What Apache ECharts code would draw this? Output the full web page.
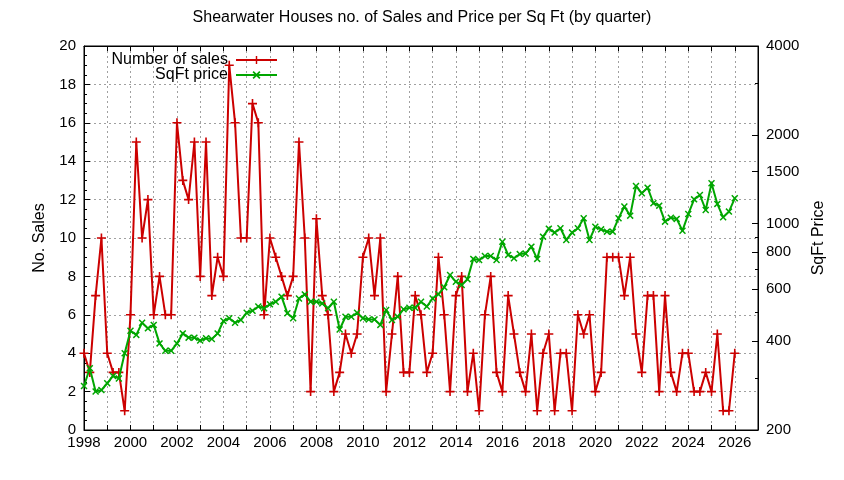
<!DOCTYPE html>
<html>
<head>
<meta charset="utf-8">
<script src="https://cdn.jsdelivr.net/npm/echarts@6/dist/echarts.min.js"></script>
<style>html,body{margin:0;padding:0;background:#fff;}#c{width:844px;height:480px;}</style>
</head>
<body>
<div id="c"></div>
<script>
const startYear = 1998;
const salesCount = [
  4,3,7,10,4,3,3,1,6,15,
  10,12,6,8,6,6,16,13,12,15,
  8,15,7,9,8,19,16,10,10,17,
  16,6,10,9,8,7,8,15,10,2,
  11,7,6,2,3,5,4,5,9,10,
  7,10,2,5,8,3,3,7,6,3,
  4,9,6,2,7,8,2,4,1,6,
  8,3,2,7,5,3,2,5,1,4,
  5,1,4,4,1,6,5,6,2,3,
  9,9,9,7,9,5,3,7,7,2,
  7,3,2,4,4,2,2,3,2,5,
  1,1,4
];
const sqftPrice = [
  282,324,270,273,288,305,299,364,434,420,
  462,442,454,393,371,371,393,425,411,411,
  402,409,407,425,468,478,462,472,499,507,
  524,517,533,544,566,497,478,558,576,544,
  544,537,517,544,438,484,484,499,478,474,
  474,454,510,472,484,513,519,519,544,524,
  558,577,609,670,636,620,648,760,753,777,
  777,753,869,784,764,789,792,836,760,904,
  962,933,965,881,933,965,1043,881,977,957,
  940,940,1043,1143,1065,1342,1268,1325,1173,1151,
  1016,1048,1038,947,1078,1209,1251,1113,1371,1167,
  1051,1099,1219
];
const xLabelYears = [1998,2000,2002,2004,2006,2008,2010,2012,2014,2016,2018,2020,2022,2024,2026];
const priceTickLabels = [200,400,600,800,1000,1500,2000,4000];
const priceMinorTicks = [300,500,700,900,3000];

const quarterOf = i => startYear + i / 4;
const salesData = salesCount.map((v, i) => [quarterOf(i), v]);
const priceData = sqftPrice.map((v, i) => [quarterOf(i), v]);

const FONT = 'Liberation Sans, Arial, sans-serif';
const RED = '#cc0000';
const GREEN = '#00a600';
const plusPath = 'path://M4.1,0H5.9V4.1H10V5.9H5.9V10H4.1V5.9H0V4.1H4.1Z';
const crossPath = 'path://M0,1.5L1.5,0L5,3.5L8.5,0L10,1.5L6.5,5L10,8.5L8.5,10L5,6.5L1.5,10L0,8.5L3.5,5Z';

const chart = echarts.init(document.getElementById('c'), null, {renderer: 'canvas'});
chart.setOption({
  animation: false,
  backgroundColor: '#fff',
  textStyle: {fontFamily: FONT, color: '#000'},
  title: {
    text: 'Shearwater Houses no. of Sales and Price per Sq Ft (by quarter)',
    left: 'center', top: 5,
    textStyle: {fontFamily: FONT, fontSize: 16, fontWeight: 'normal', color: '#000'}
  },
  grid: {left: 84, right: 86, top: 46, bottom: 50, show: true, borderColor: '#000', borderWidth: 1, backgroundColor: 'transparent'},
  legend: [
    {data: ['Number of sales'], right: 566, top: 52, padding: 0, align: 'right', itemWidth: 41, itemHeight: 10, itemGap: 4,
     textStyle: {fontFamily: FONT, fontSize: 16, color: '#000', padding: [0, 3, 0, 0]}},
    {data: ['SqFt price'], right: 566, top: 67, padding: 0, align: 'right', itemWidth: 41, itemHeight: 10, itemGap: 4,
     textStyle: {fontFamily: FONT, fontSize: 16, color: '#000', padding: [0, 3, 0, 0]}}
  ],
  xAxis: [
    {
      type: 'value', min: 1998, max: 2027, interval: 1, position: 'bottom',
      axisLine: {show: true, lineStyle: {color: '#000', width: 1}},
      axisTick: {show: true, inside: true, length: 5, lineStyle: {color: '#000'}},
      axisLabel: {
        color: '#000', fontSize: 15, fontFamily: FONT, margin: 5,
        formatter: v => xLabelYears.includes(v) ? String(v) : ''
      },
      splitLine: {show: true, lineStyle: {color: '#a0a0a0', type: [2, 3], width: 1}}
    },
    {
      type: 'value', min: 1998, max: 2027, interval: 1, position: 'top',
      axisLine: {show: true, lineStyle: {color: '#000', width: 1}},
      axisTick: {show: true, inside: true, length: 5, lineStyle: {color: '#000'}},
      axisLabel: {show: false},
      splitLine: {show: false}
    }
  ],
  yAxis: [
    {
      type: 'value', min: 0, max: 20, interval: 2, position: 'left',
      name: 'No. Sales', nameLocation: 'middle', nameGap: 36, nameRotate: 90,
      nameTextStyle: {fontFamily: FONT, fontSize: 16, color: '#000'},
      axisLine: {show: true, lineStyle: {color: '#000', width: 1}},
      axisTick: {show: true, inside: true, length: 6, lineStyle: {color: '#000'}},
      minorTick: {show: true, splitNumber: 4, length: 3, lineStyle: {color: '#000'}},
      axisLabel: {color: '#000', fontSize: 15, fontFamily: FONT, margin: 8},
      splitLine: {show: true, lineStyle: {color: '#a0a0a0', type: [2, 3], width: 1}}
    },
    {
      type: 'log', logBase: 10, min: 200, max: 4000, position: 'right',
      name: 'SqFt Price', nameLocation: 'middle', nameGap: 50, nameRotate: 90,
      nameTextStyle: {fontFamily: FONT, fontSize: 16, color: '#000'},
      axisLine: {show: true, lineStyle: {color: '#000', width: 1}},
      axisTick: {show: true, inside: true, length: 6, customValues: priceTickLabels, lineStyle: {color: '#000'}},
      axisLabel: {color: '#000', fontSize: 15, fontFamily: FONT, margin: 8, customValues: priceTickLabels,
        formatter: v => String(Math.round(v))},
      splitLine: {show: false}
    },
    {
      type: 'log', logBase: 10, min: 200, max: 4000, position: 'right',
      axisLine: {show: false},
      axisTick: {show: true, inside: true, length: 3, customValues: priceMinorTicks, lineStyle: {color: '#000'}},
      axisLabel: {show: false},
      splitLine: {show: false}
    }
  ],
  series: [
    {
      name: 'Number of sales', type: 'line', xAxisIndex: 0, yAxisIndex: 0,
      data: salesData, symbol: plusPath, symbolSize: 9, showSymbol: true,
      itemStyle: {color: RED}, lineStyle: {color: RED, width: 2}, z: 2
    },
    {
      name: 'SqFt price', type: 'line', xAxisIndex: 0, yAxisIndex: 1,
      data: priceData, symbol: crossPath, symbolSize: 7, showSymbol: true,
      itemStyle: {color: GREEN}, lineStyle: {color: GREEN, width: 2}, z: 3
    }
  ]
});
</script>
</body>
</html>
